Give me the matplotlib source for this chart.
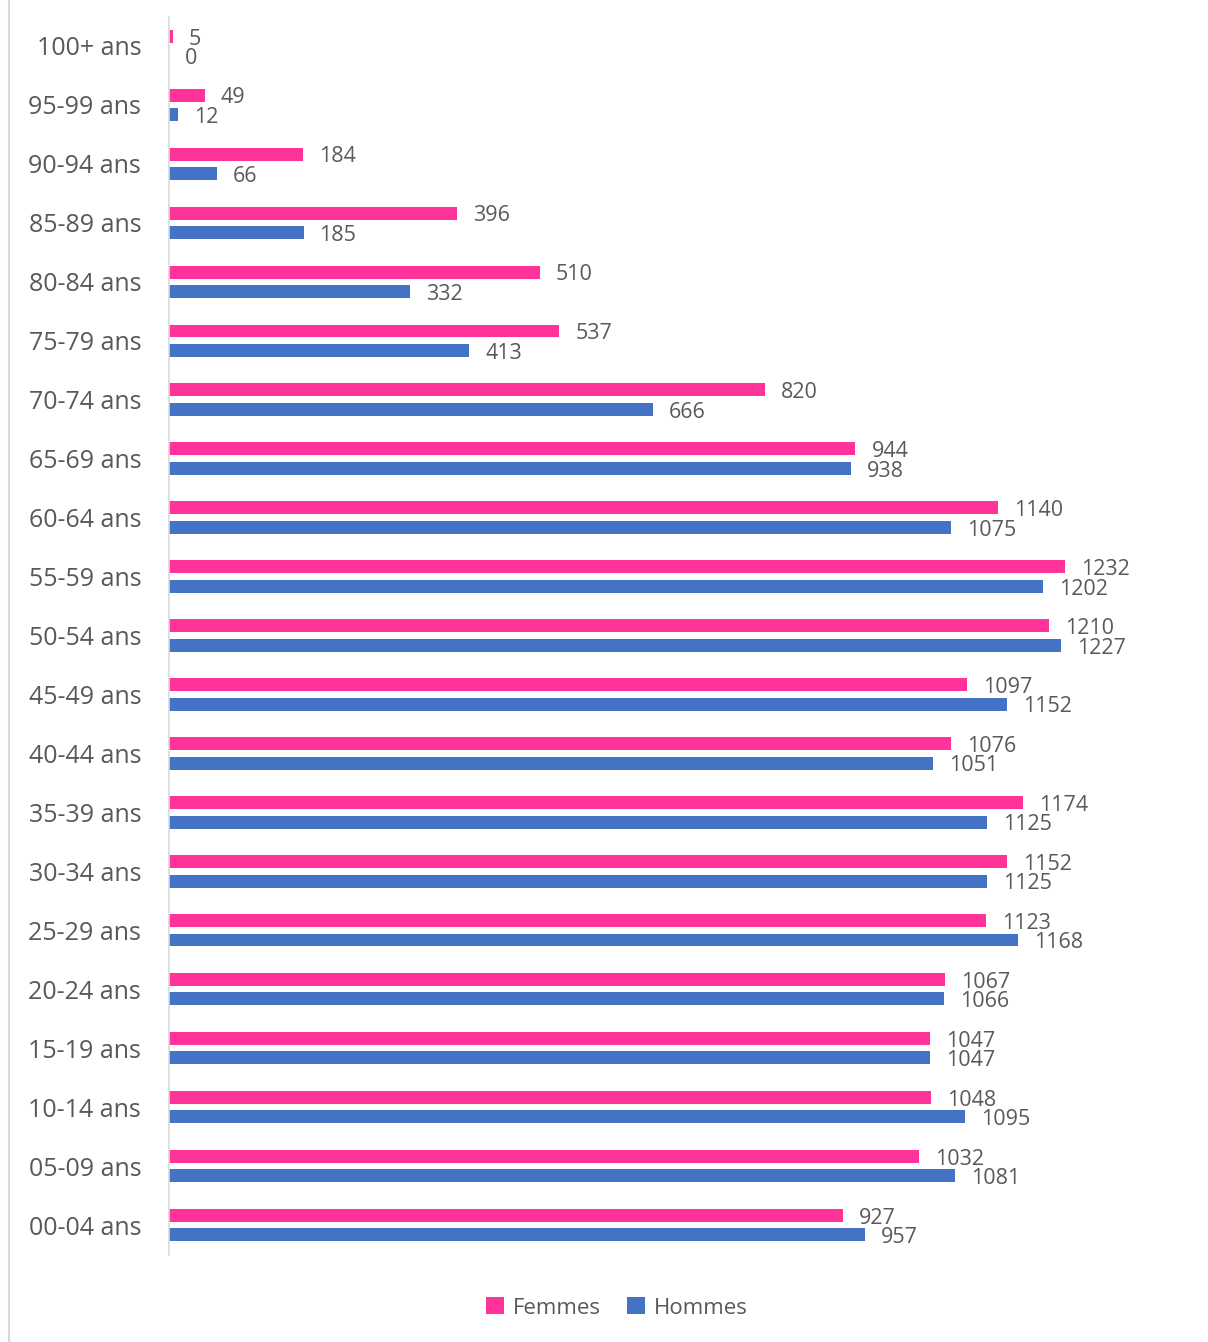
import matplotlib
matplotlib.use("Agg")
import matplotlib.pyplot as plt
from matplotlib.lines import Line2D
import numpy as np

plt.rcParams['font.family'] = ['Open Sans', 'DejaVu Sans']

categories = ["00-04 ans", "05-09 ans", "10-14 ans", "15-19 ans", "20-24 ans", "25-29 ans",
              "30-34 ans", "35-39 ans", "40-44 ans", "45-49 ans", "50-54 ans", "55-59 ans",
              "60-64 ans", "65-69 ans", "70-74 ans", "75-79 ans", "80-84 ans", "85-89 ans",
              "90-94 ans", "95-99 ans", "100+ ans"]
femmes = [927, 1032, 1048, 1047, 1067, 1123, 1152, 1174, 1076, 1097, 1210, 1232,
          1140, 944, 820, 537, 510, 396, 184, 49, 5]
hommes = [957, 1081, 1095, 1047, 1066, 1168, 1125, 1125, 1051, 1152, 1227, 1202,
          1075, 938, 666, 413, 332, 185, 66, 12, 0]

PINK = "#FF3399"
BLUE = "#4472C4"
TXT = "#595959"

W, H = 1208, 1342
fig = plt.figure(figsize=(W / 100, H / 100), dpi=100)
ax = fig.add_axes([169 / W, 1 - 1254.5 / H, 1018 / W, (1254.5 - 16.5) / H])

y = np.arange(len(categories))
off = 0.165
h = 0.22
bf = ax.barh(y + off, femmes, height=h, color=PINK, label="Femmes")
bh = ax.barh(y - off, hommes, height=h, color=BLUE, label="Hommes")

for rects, vals in ((bf, femmes), (bh, hommes)):
    for r, v in zip(rects, vals):
        ax.annotate(str(v), (r.get_width(), r.get_y() + r.get_height() / 2),
                    xytext=(11.5, -2), textcoords="offset points",
                    ha="left", va="center", fontsize=15.5, color=TXT)

ax.set_xlim(0, 1400)
ax.set_ylim(-0.5, len(categories) - 0.5)
ax.set_yticks(y)
ax.set_yticklabels(categories, fontsize=18, color=TXT)
ax.tick_params(axis="y", length=0, pad=20)
ax.set_xticks([])
for s in ("top", "right", "bottom"):
    ax.spines[s].set_visible(False)
ax.spines["left"].set_color("#d9d9d9")
ax.spines["left"].set_linewidth(1.2)

leg = fig.legend(handles=[bf, bh], loc="center", bbox_to_anchor=(617 / W, 1 - 1308 / H),
                 ncol=2, frameon=False, fontsize=16, handlelength=0.8, handleheight=0.8,
                 handletextpad=0.4, columnspacing=1.2)
for t in leg.get_texts():
    t.set_color(TXT)

fig.add_artist(Line2D([8.5 / W, 8.5 / W], [0, 1], transform=fig.transFigure,
                      color="#d9d9d9", lw=1.5))

fig.savefig("out.png", dpi=100, facecolor="white")
